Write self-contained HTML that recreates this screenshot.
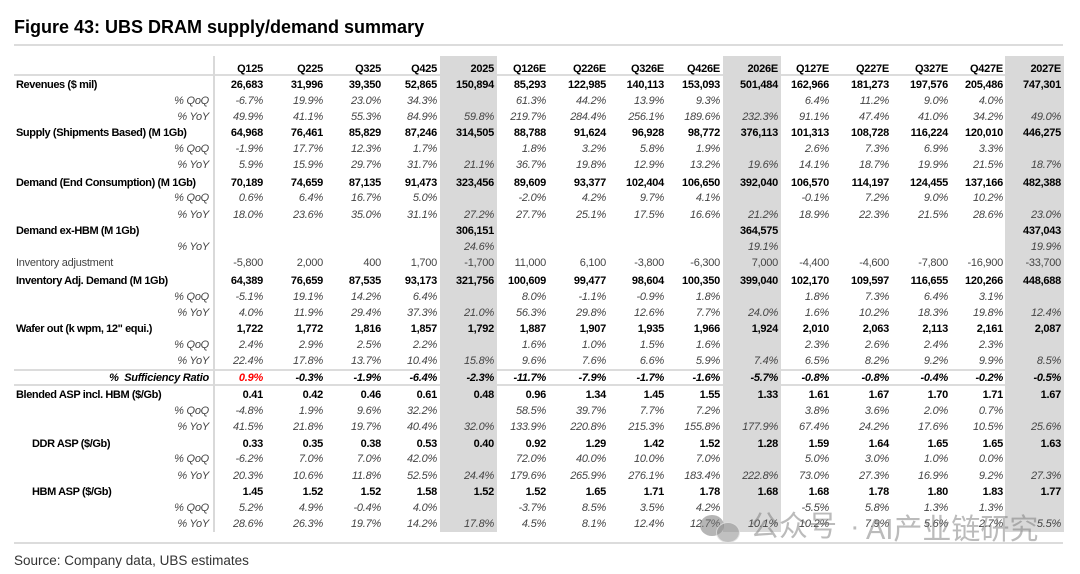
<!DOCTYPE html>
<html><head><meta charset="utf-8"><style>
body{margin:0;width:1080px;height:574px;background:#fff;position:relative;overflow:hidden;font-family:"Liberation Sans",Arial,sans-serif;}
.a{position:absolute;}
.sh{position:absolute;top:56px;height:476px;background:#d9d9d9;}
.hl{position:absolute;left:14px;width:1050px;height:2px;background:#dcdcdc;}
.r{position:absolute;left:0;height:16px;line-height:16px;display:flex;font-size:11px;letter-spacing:-0.25px;white-space:nowrap;}
.r>span{display:block;text-align:right;padding-right:3px;box-sizing:border-box;flex:none;}
.r>span:nth-child(1){width:215px;padding-right:6px;}
.r>span:nth-child(2){width:51px}.r>span:nth-child(3){width:60px}.r>span:nth-child(4){width:58px}
.r>span:nth-child(5){width:56px}.r>span:nth-child(6){width:57px}.r>span:nth-child(7){width:52px}
.r>span:nth-child(8){width:60px}.r>span:nth-child(9){width:58px}.r>span:nth-child(10){width:56px}
.r>span:nth-child(11){width:58px}.r>span:nth-child(12){width:51px}.r>span:nth-child(13){width:60px}
.r>span:nth-child(14){width:59px}.r>span:nth-child(15){width:55px}.r>span:nth-child(16){width:58px}
.b{font-weight:bold;color:#000;}
.b>span:first-child{text-align:left;padding-left:16px;letter-spacing:-0.4px;}
.ind>span:first-child{padding-left:32px;}
.p{font-style:italic;color:#444;}
.inv{color:#444;}
.inv>span:first-child{text-align:left;padding-left:16px;}
.s{font-weight:bold;font-style:italic;color:#000;}
</style></head><body>
<div class="a" style="left:14px;top:16px;font-size:18px;line-height:22px;font-weight:bold;color:#000;">Figure 43: UBS DRAM supply/demand summary</div>
<div class="hl" style="top:44px;width:1049px;"></div>
<div class="hl" style="top:74px;"></div>
<div class="hl" style="top:369px;"></div>
<div class="hl" style="top:384px;"></div>
<div class="hl" style="top:542px;width:1049px;"></div>
<div class="a" style="left:213px;top:56px;width:2px;height:476px;background:#d9d9d9;"></div>
<div class="sh" style="left:440px;width:57px;"></div>
<div class="sh" style="left:723px;width:58px;"></div>
<div class="sh" style="left:1005px;width:59px;"></div>

<div class="r b" style="top:61px"><span></span><span>Q125</span><span>Q225</span><span>Q325</span><span>Q425</span><span>2025</span><span>Q126E</span><span>Q226E</span><span>Q326E</span><span>Q426E</span><span>2026E</span><span>Q127E</span><span>Q227E</span><span>Q327E</span><span>Q427E</span><span>2027E</span></div>

<div class="r b" style="top:77px"><span>Revenues ($ mil)</span><span>26,683</span><span>31,996</span><span>39,350</span><span>52,865</span><span>150,894</span><span>85,293</span><span>122,985</span><span>140,113</span><span>153,093</span><span>501,484</span><span>162,966</span><span>181,273</span><span>197,576</span><span>205,486</span><span>747,301</span></div>
<div class="r p" style="top:93px"><span>% QoQ</span><span>-6.7%</span><span>19.9%</span><span>23.0%</span><span>34.3%</span><span></span><span>61.3%</span><span>44.2%</span><span>13.9%</span><span>9.3%</span><span></span><span>6.4%</span><span>11.2%</span><span>9.0%</span><span>4.0%</span><span></span></div>
<div class="r p" style="top:109px"><span>% YoY</span><span>49.9%</span><span>41.1%</span><span>55.3%</span><span>84.9%</span><span>59.8%</span><span>219.7%</span><span>284.4%</span><span>256.1%</span><span>189.6%</span><span>232.3%</span><span>91.1%</span><span>47.4%</span><span>41.0%</span><span>34.2%</span><span>49.0%</span></div>

<div class="r b" style="top:125px"><span>Supply (Shipments Based) (M 1Gb)</span><span>64,968</span><span>76,461</span><span>85,829</span><span>87,246</span><span>314,505</span><span>88,788</span><span>91,624</span><span>96,928</span><span>98,772</span><span>376,113</span><span>101,313</span><span>108,728</span><span>116,224</span><span>120,010</span><span>446,275</span></div>
<div class="r p" style="top:141px"><span>% QoQ</span><span>-1.9%</span><span>17.7%</span><span>12.3%</span><span>1.7%</span><span></span><span>1.8%</span><span>3.2%</span><span>5.8%</span><span>1.9%</span><span></span><span>2.6%</span><span>7.3%</span><span>6.9%</span><span>3.3%</span><span></span></div>
<div class="r p" style="top:157px"><span>% YoY</span><span>5.9%</span><span>15.9%</span><span>29.7%</span><span>31.7%</span><span>21.1%</span><span>36.7%</span><span>19.8%</span><span>12.9%</span><span>13.2%</span><span>19.6%</span><span>14.1%</span><span>18.7%</span><span>19.9%</span><span>21.5%</span><span>18.7%</span></div>

<div class="r b" style="top:175px"><span>Demand (End Consumption) (M 1Gb)</span><span>70,189</span><span>74,659</span><span>87,135</span><span>91,473</span><span>323,456</span><span>89,609</span><span>93,377</span><span>102,404</span><span>106,650</span><span>392,040</span><span>106,570</span><span>114,197</span><span>124,455</span><span>137,166</span><span>482,388</span></div>
<div class="r p" style="top:190px"><span>% QoQ</span><span>0.6%</span><span>6.4%</span><span>16.7%</span><span>5.0%</span><span></span><span>-2.0%</span><span>4.2%</span><span>9.7%</span><span>4.1%</span><span></span><span>-0.1%</span><span>7.2%</span><span>9.0%</span><span>10.2%</span><span></span></div>
<div class="r p" style="top:207px"><span>% YoY</span><span>18.0%</span><span>23.6%</span><span>35.0%</span><span>31.1%</span><span>27.2%</span><span>27.7%</span><span>25.1%</span><span>17.5%</span><span>16.6%</span><span>21.2%</span><span>18.9%</span><span>22.3%</span><span>21.5%</span><span>28.6%</span><span>23.0%</span></div>

<div class="r b" style="top:223px"><span>Demand ex-HBM (M 1Gb)</span><span></span><span></span><span></span><span></span><span>306,151</span><span></span><span></span><span></span><span></span><span>364,575</span><span></span><span></span><span></span><span></span><span>437,043</span></div>
<div class="r p" style="top:239px"><span>% YoY</span><span></span><span></span><span></span><span></span><span>24.6%</span><span></span><span></span><span></span><span></span><span>19.1%</span><span></span><span></span><span></span><span></span><span>19.9%</span></div>

<div class="r inv" style="top:255px"><span>Inventory adjustment</span><span>-5,800</span><span>2,000</span><span>400</span><span>1,700</span><span>-1,700</span><span>11,000</span><span>6,100</span><span>-3,800</span><span>-6,300</span><span>7,000</span><span>-4,400</span><span>-4,600</span><span>-7,800</span><span>-16,900</span><span>-33,700</span></div>

<div class="r b" style="top:273px"><span>Inventory Adj. Demand (M 1Gb)</span><span>64,389</span><span>76,659</span><span>87,535</span><span>93,173</span><span>321,756</span><span>100,609</span><span>99,477</span><span>98,604</span><span>100,350</span><span>399,040</span><span>102,170</span><span>109,597</span><span>116,655</span><span>120,266</span><span>448,688</span></div>
<div class="r p" style="top:289px"><span>% QoQ</span><span>-5.1%</span><span>19.1%</span><span>14.2%</span><span>6.4%</span><span></span><span>8.0%</span><span>-1.1%</span><span>-0.9%</span><span>1.8%</span><span></span><span>1.8%</span><span>7.3%</span><span>6.4%</span><span>3.1%</span><span></span></div>
<div class="r p" style="top:305px"><span>% YoY</span><span>4.0%</span><span>11.9%</span><span>29.4%</span><span>37.3%</span><span>21.0%</span><span>56.3%</span><span>29.8%</span><span>12.6%</span><span>7.7%</span><span>24.0%</span><span>1.6%</span><span>10.2%</span><span>18.3%</span><span>19.8%</span><span>12.4%</span></div>

<div class="r b" style="top:321px"><span>Wafer out (k wpm, 12" equi.)</span><span>1,722</span><span>1,772</span><span>1,816</span><span>1,857</span><span>1,792</span><span>1,887</span><span>1,907</span><span>1,935</span><span>1,966</span><span>1,924</span><span>2,010</span><span>2,063</span><span>2,113</span><span>2,161</span><span>2,087</span></div>
<div class="r p" style="top:337px"><span>% QoQ</span><span>2.4%</span><span>2.9%</span><span>2.5%</span><span>2.2%</span><span></span><span>1.6%</span><span>1.0%</span><span>1.5%</span><span>1.6%</span><span></span><span>2.3%</span><span>2.6%</span><span>2.4%</span><span>2.3%</span><span></span></div>
<div class="r p" style="top:353px"><span>% YoY</span><span>22.4%</span><span>17.8%</span><span>13.7%</span><span>10.4%</span><span>15.8%</span><span>9.6%</span><span>7.6%</span><span>6.6%</span><span>5.9%</span><span>7.4%</span><span>6.5%</span><span>8.2%</span><span>9.2%</span><span>9.9%</span><span>8.5%</span></div>

<div class="r s" style="top:370px"><span>% &nbsp;Sufficiency Ratio</span><span style="color:#f00">0.9%</span><span>-0.3%</span><span>-1.9%</span><span>-6.4%</span><span>-2.3%</span><span>-11.7%</span><span>-7.9%</span><span>-1.7%</span><span>-1.6%</span><span>-5.7%</span><span>-0.8%</span><span>-0.8%</span><span>-0.4%</span><span>-0.2%</span><span>-0.5%</span></div>

<div class="r b" style="top:387px"><span>Blended ASP incl. HBM ($/Gb)</span><span>0.41</span><span>0.42</span><span>0.46</span><span>0.61</span><span>0.48</span><span>0.96</span><span>1.34</span><span>1.45</span><span>1.55</span><span>1.33</span><span>1.61</span><span>1.67</span><span>1.70</span><span>1.71</span><span>1.67</span></div>
<div class="r p" style="top:403px"><span>% QoQ</span><span>-4.8%</span><span>1.9%</span><span>9.6%</span><span>32.2%</span><span></span><span>58.5%</span><span>39.7%</span><span>7.7%</span><span>7.2%</span><span></span><span>3.8%</span><span>3.6%</span><span>2.0%</span><span>0.7%</span><span></span></div>
<div class="r p" style="top:419px"><span>% YoY</span><span>41.5%</span><span>21.8%</span><span>19.7%</span><span>40.4%</span><span>32.0%</span><span>133.9%</span><span>220.8%</span><span>215.3%</span><span>155.8%</span><span>177.9%</span><span>67.4%</span><span>24.2%</span><span>17.6%</span><span>10.5%</span><span>25.6%</span></div>

<div class="r b ind" style="top:436px"><span>DDR ASP ($/Gb)</span><span>0.33</span><span>0.35</span><span>0.38</span><span>0.53</span><span>0.40</span><span>0.92</span><span>1.29</span><span>1.42</span><span>1.52</span><span>1.28</span><span>1.59</span><span>1.64</span><span>1.65</span><span>1.65</span><span>1.63</span></div>
<div class="r p" style="top:451px"><span>% QoQ</span><span>-6.2%</span><span>7.0%</span><span>7.0%</span><span>42.0%</span><span></span><span>72.0%</span><span>40.0%</span><span>10.0%</span><span>7.0%</span><span></span><span>5.0%</span><span>3.0%</span><span>1.0%</span><span>0.0%</span><span></span></div>
<div class="r p" style="top:468px"><span>% YoY</span><span>20.3%</span><span>10.6%</span><span>11.8%</span><span>52.5%</span><span>24.4%</span><span>179.6%</span><span>265.9%</span><span>276.1%</span><span>183.4%</span><span>222.8%</span><span>73.0%</span><span>27.3%</span><span>16.9%</span><span>9.2%</span><span>27.3%</span></div>

<div class="r b ind" style="top:484px"><span>HBM ASP ($/Gb)</span><span>1.45</span><span>1.52</span><span>1.52</span><span>1.58</span><span>1.52</span><span>1.52</span><span>1.65</span><span>1.71</span><span>1.78</span><span>1.68</span><span>1.68</span><span>1.78</span><span>1.80</span><span>1.83</span><span>1.77</span></div>
<div class="r p" style="top:500px"><span>% QoQ</span><span>5.2%</span><span>4.9%</span><span>-0.4%</span><span>4.0%</span><span></span><span>-3.7%</span><span>8.5%</span><span>3.5%</span><span>4.2%</span><span></span><span>-5.5%</span><span>5.8%</span><span>1.3%</span><span>1.3%</span><span></span></div>
<div class="r p" style="top:516px"><span>% YoY</span><span>28.6%</span><span>26.3%</span><span>19.7%</span><span>14.2%</span><span>17.8%</span><span>4.5%</span><span>8.1%</span><span>12.4%</span><span>12.7%</span><span>10.1%</span><span>10.2%</span><span>7.9%</span><span>5.6%</span><span>2.7%</span><span>5.5%</span></div>

<div class="a" style="left:14px;top:553px;font-size:13.5px;line-height:16px;color:#333;">Source: Company data, UBS estimates</div>

<!-- watermark -->
<div class="a" style="left:700px;top:515px;width:24px;height:21px;border-radius:50%;background:rgba(120,120,120,0.55);"></div>
<div class="a" style="left:716px;top:522px;width:22px;height:19px;border-radius:50%;background:rgba(140,140,140,0.55);border:1px solid rgba(255,255,255,0.6);"></div>
<div class="a" style="left:750px;top:512px;font-family:'Liberation Sans','Noto Sans CJK SC',sans-serif;font-size:29px;line-height:30px;color:rgba(120,120,120,0.5);white-space:nowrap;">公众号</div>
<div class="a" style="left:850px;top:512px;font-family:'Liberation Sans','Noto Sans CJK SC',sans-serif;font-size:29px;line-height:30px;color:rgba(120,120,120,0.5);">·</div>
<div class="a" style="left:866px;top:512px;font-family:'Liberation Sans','Noto Sans CJK SC',sans-serif;font-size:29px;line-height:30px;color:rgba(120,120,120,0.5);white-space:nowrap;letter-spacing:0px;">AI<span style="font-family:'Noto Sans CJK SC',sans-serif;">产业链研究</span></div>
</body></html>
